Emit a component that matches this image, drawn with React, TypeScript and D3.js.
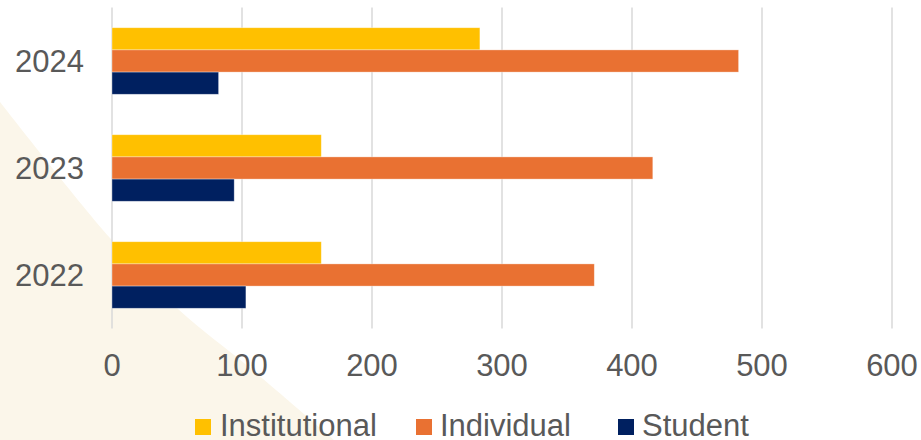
import React from "react";
import * as d3 from "d3";

// Membership counts by year and category
const years = ["2024", "2023", "2022"];
const seriesNames = ["Institutional", "Individual", "Student"];
const institutional = [283, 161, 161];
const individual = [482, 416, 371];
const student = [82, 94, 103];
const xTicks = [0, 100, 200, 300, 400, 500, 600];

const seriesValues = [institutional, individual, student];
const colors = ["#FFC000", "#E97132", "#002060"];

const W = 921;
const H = 440;
const FONT = "'Liberation Sans', Arial, Helvetica, sans-serif";
const TEXT = "#595959";

export default function App() {
  const x = d3.scaleLinear().domain([0, 600]).range([112, 892]);
  const y = d3
    .scaleBand<string>()
    .domain(years)
    .range([7.5, 328.5])
    .paddingInner(0.378)
    .paddingOuter(0.189);
  const inner = d3
    .scaleBand<string>()
    .domain(seriesNames)
    .range([0, y.bandwidth()]);

  // decorative beige wedge in the lower-left corner
  const wedgeEdge: [number, number][] = [
    [0, 102],
    [110, 238],
    [178, 309],
    [250, 368],
    [334, 440],
  ];
  const edge = d3.line().curve(d3.curveCatmullRom)(wedgeEdge) || "";
  const wedge = `${edge} L0,${H} Z`;

  const legendItems = [
    { name: seriesNames[0], sq: 195, tx: 220 },
    { name: seriesNames[1], sq: 416, tx: 440 },
    { name: seriesNames[2], sq: 618, tx: 642 },
  ];

  return (
    <svg
      width={W}
      height={H}
      style={{ position: "absolute", left: 0, top: 0, background: "#ffffff" }}
      fontFamily={FONT}
    >
      <path d={wedge} fill="#FBF6EA" />

      {/* vertical gridlines */}
      {xTicks.map((t) => (
        <line
          key={t}
          x1={x(t)}
          x2={x(t)}
          y1={7.5}
          y2={328.5}
          stroke="#D9D9D9"
          strokeWidth={1.5}
        />
      ))}

      {/* bars */}
      {years.map((yr, i) =>
        seriesNames.map((s, j) => (
          <rect
            key={yr + s}
            x={x(0)}
            y={(y(yr) as number) + (inner(s) as number)}
            width={x(seriesValues[j][i]) - x(0)}
            height={inner.bandwidth()}
            fill={colors[j]}
            stroke="#ffffff"
            strokeOpacity={0.45}
            strokeWidth={0.75}
          />
        ))
      )}

      {/* category labels */}
      {years.map((yr) => (
        <text
          key={yr}
          x={84}
          y={(y(yr) as number) + y.bandwidth() / 2}
          dy="0.35em"
          textAnchor="end"
          fontSize={31}
          fill={TEXT}
        >
          {yr}
        </text>
      ))}

      {/* value axis labels */}
      {xTicks.map((t) => (
        <text
          key={t}
          x={x(t)}
          y={376}
          textAnchor="middle"
          fontSize={31}
          fill={TEXT}
        >
          {t}
        </text>
      ))}

      {/* legend */}
      {legendItems.map((it, k) => (
        <g key={it.name}>
          <rect x={it.sq} y={419} width={16} height={16} fill={colors[k]} />
          <text x={it.tx} y={436} fontSize={31} fill={TEXT}>
            {it.name}
          </text>
        </g>
      ))}
    </svg>
  );
}
